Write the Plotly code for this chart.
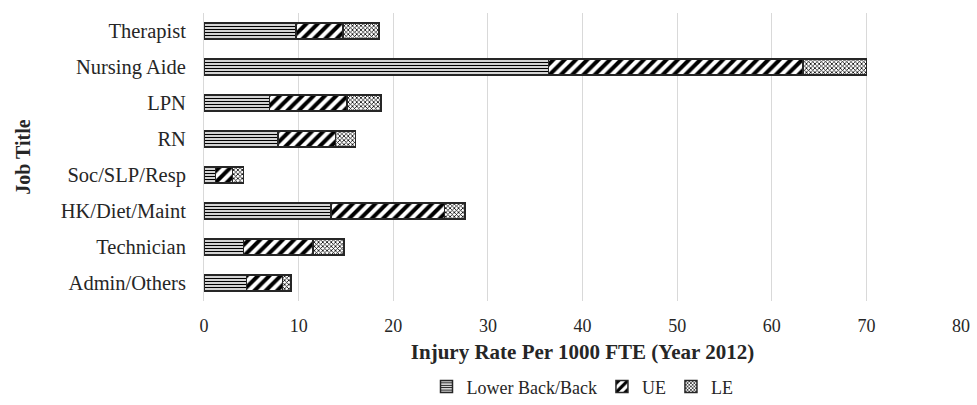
import plotly.graph_objects as go

jobs = ["Admin/Others", "Technician", "HK/Diet/Maint", "Soc/SLP/Resp", "RN", "LPN", "Nursing Aide", "Therapist"]
lower_back = [4.5, 4.2, 13.4, 1.2, 7.8, 6.9, 36.4, 9.7]
ue = [3.8, 7.3, 12.0, 1.8, 6.1, 8.2, 26.9, 5.0]
le = [0.9, 3.3, 2.2, 1.2, 2.1, 3.6, 6.7, 3.8]
x_ticks = [0, 10, 20, 30, 40, 50, 60, 70, 80]

font_family = "Liberation Serif, Times New Roman, serif"

fig = go.Figure()
series = [
    ("Lower Back/Back", lower_back, dict(shape="-", size=3, solidity=0.45)),
    ("UE", ue, dict(shape="/", size=8, solidity=0.5)),
    ("LE", le, dict(shape="x", size=3, solidity=0.45)),
]
for name, vals, pat in series:
    fig.add_trace(go.Bar(
        y=jobs, x=vals, name=name, orientation="h",
        marker=dict(color="white",
                    line=dict(color="#262626", width=1.5),
                    pattern=dict(fgcolor="black", bgcolor="white", fillmode="replace",
                                 fgopacity=1, **pat)),
    ))

fig.update_layout(
    barmode="stack",
    bargap=0.56,
    width=977, height=405,
    margin=dict(l=204, r=16, t=13, b=104),
    paper_bgcolor="white", plot_bgcolor="white",
    font=dict(family=font_family, size=20, color="#262626"),
    legend=dict(orientation="h", x=0.5, xanchor="center", yref="container", y=0.045,
                yanchor="middle", font=dict(size=18), traceorder="normal", itemwidth=30,
                tracegroupgap=0),
    showlegend=True,
)
fig.update_xaxes(
    range=[0, 80], tickvals=x_ticks, showgrid=True, gridcolor="#d9d9d9", gridwidth=1,
    zeroline=False, showline=False, ticks="", tickfont=dict(size=18), automargin=False,
    ticklabelstandoff=12,
    title=dict(text="<b>Injury Rate Per 1000 FTE (Year 2012)</b>", font=dict(size=21), standoff=9),
)
fig.update_yaxes(
    categoryorder="array", categoryarray=jobs,
    showline=True, linecolor="#d9d9d9", linewidth=1, showgrid=False, automargin=False,
    ticks="", ticklabelstandoff=13, tickfont=dict(size=20.5),
    title=dict(text="<b>Job Title</b>", font=dict(size=20), standoff=24),
)

fig.write_html("out.html", config={"displayModeBar": False},
               post_script="document.body.style.margin='0';")
